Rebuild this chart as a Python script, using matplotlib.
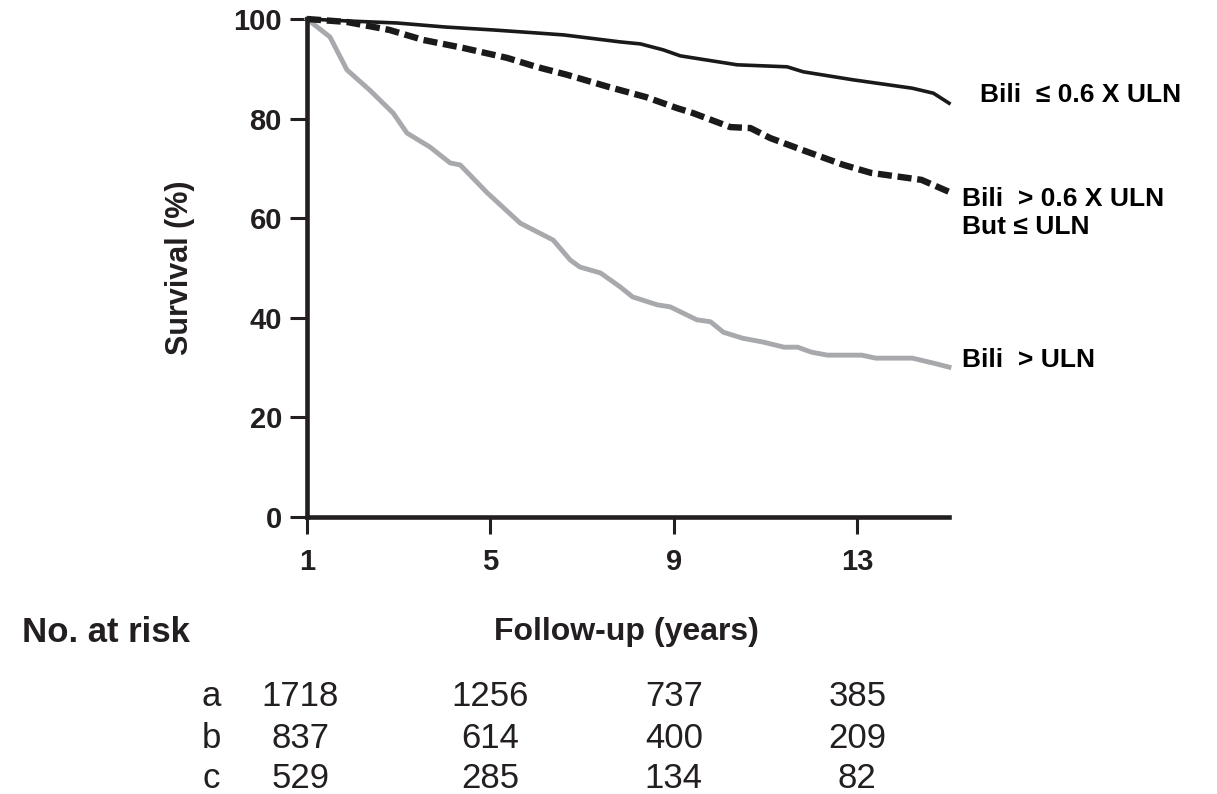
import numpy as np
import matplotlib
matplotlib.use('Agg')
import matplotlib.pyplot as plt
import matplotlib.transforms as mtransforms

plt.rcParams['font.family'] = ['Liberation Sans', 'DejaVu Sans']

INK = '#231f20'

# Kaplan-Meier survival (%) by baseline bilirubin group
t_low = [1, 1.9, 2.96, 4.0, 5.06, 6.0, 6.6, 7.83, 8.27, 8.77, 9.14, 10.38, 11.47, 11.82, 12.9, 14.2, 14.66, 15]
s_low = [100, 99.6, 99.2, 98.4, 97.8, 97.2, 96.8, 95.4, 95.0, 93.8, 92.6, 90.8, 90.4, 89.4, 87.8, 86.1, 85.1, 83.1]

t_mid = [1, 1.87, 2.8, 3.53, 4.4, 5.36, 6.0, 6.67, 7.6, 8.4, 9.07, 9.42, 10.23, 10.67, 11.1, 11.8, 12.7, 13.3, 14.4, 15]
s_mid = [100, 99.4, 97.8, 95.8, 94.2, 92.2, 90.4, 88.8, 86.3, 84.3, 82.1, 81.1, 78.3, 78.1, 76.1, 73.7, 70.7, 69.1, 67.7, 65.3]

t_high = [1, 1.5, 1.87, 2.37, 2.88, 3.18, 3.68, 4.12, 4.34, 4.93, 5.65, 6.37, 6.74, 6.95, 7.4, 7.83, 8.1, 8.64, 8.92,
          9.5, 9.8, 10.08, 10.5, 10.96, 11.4, 11.7, 12.0, 12.35, 13.1, 13.4, 14.2, 14.66, 15]
s_high = [100, 96.4, 89.8, 85.7, 81.1, 77.1, 74.3, 71.1, 70.7, 65.1, 59.0, 55.6, 51.6, 50.2, 49.0, 46.2, 44.2, 42.6, 42.2,
          39.6, 39.2, 37.1, 35.9, 35.1, 34.1, 34.1, 33.1, 32.5, 32.5, 31.9, 31.9, 30.9, 30.1]

risk_years = [1, 5, 9, 13]
risk_rows = ['a', 'b', 'c']
risk_a = [1718, 1256, 737, 385]
risk_b = [837, 614, 400, 209]
risk_c = [529, 285, 134, 82]

W, H = 1217, 794
fig = plt.figure(figsize=(W / 100, H / 100), dpi=100)
ax = fig.add_axes([307 / W, 1 - 517 / H, (949 - 307) / W, (517 - 19) / H])

ax.plot(t_high, s_high, color='#a7a9ac', lw=3.5, solid_joinstyle='round', clip_on=False)
ax.plot(t_mid, s_mid, color='#1a1a1a', lw=4.6, ls=(0, (2.2, 0.9)), dash_capstyle='butt', clip_on=False)
ax.plot(t_low, s_low, color='#1a1a1a', lw=2.6, clip_on=False)

ax.set_xlim(1, 15)
ax.set_ylim(0, 100)
ax.set_xticks([1, 5, 9, 13])
ax.set_yticks([0, 20, 40, 60, 80, 100])
for side in ['top', 'right']:
    ax.spines[side].set_visible(False)
for side in ['left', 'bottom']:
    ax.spines[side].set_linewidth(3.3)
    ax.spines[side].set_color(INK)
    ax.spines[side].set_capstyle('projecting')
ax.tick_params(axis='both', direction='out', length=12, width=2.2, color=INK,
               labelsize=21, labelcolor=INK)
ax.tick_params(axis='y', pad=6)
ax.tick_params(axis='x', pad=10)
for lab in ax.get_xticklabels() + ax.get_yticklabels():
    lab.set_fontweight('bold')

ax.set_ylabel('Survival (%)', fontsize=22, fontweight='bold', color=INK, va='center')
ax.yaxis.set_label_coords(-0.198, 0.5)
ax.set_xlabel('Follow-up (years)', fontsize=23, fontweight='bold', color=INK, va='center')
ax.xaxis.set_label_coords(0.498, -0.231)

# group labels at the end of each curve
ax.text(15.68, 84.7, 'Bili  \u2264 0.6 X ULN', fontsize=19, fontweight='bold', va='center', color='black')
ax.text(15.29, 61.0, 'Bili  > 0.6 X ULN\nBut \u2264 ULN', fontsize=19, fontweight='bold', va='center',
        color='black', linespacing=1.2)
ax.text(15.29, 31.5, 'Bili  > ULN', fontsize=19, fontweight='bold', va='center', color='black')

# number-at-risk table under the axis
fig.text(22 / W, 1 - 633 / H, 'No. at risk', fontsize=25, fontweight='bold', color=INK, va='center')
trans = mtransforms.blended_transform_factory(ax.transData, fig.transFigure)
row_y = [697, 738, 778]
for name, counts, y in zip(risk_rows, [risk_a, risk_b, risk_c], row_y):
    fig.text(211 / W, 1 - y / H, name, fontsize=25, color=INK, ha='center', va='center')
    for yr, n in zip(risk_years, counts):
        ax.text(yr - 0.15 if yr == 1 else yr, 1 - y / H, str(n), transform=trans, fontsize=25,
                color=INK, ha='center', va='center', clip_on=False)

fig.savefig('out.png', dpi=100)
